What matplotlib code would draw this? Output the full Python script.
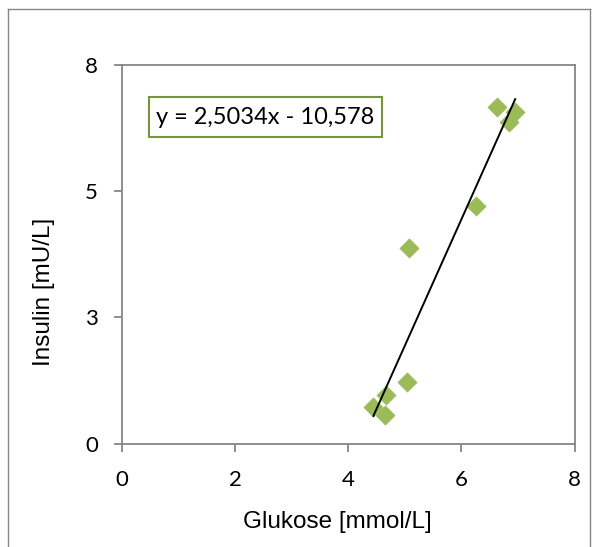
import matplotlib
matplotlib.use("Agg")
import matplotlib.pyplot as plt
import numpy as np
from matplotlib.lines import Line2D
from matplotlib.patches import Rectangle

# Data
glukose = [4.445, 4.652, 4.664, 5.035, 5.081, 6.26, 6.625, 6.843, 6.949]
insulin = [0.732, 0.568, 0.964, 1.227, 3.867, 4.704, 6.669, 6.372, 6.564]
slope = 2.5034
intercept = -10.578
equation = "y = 2,5034x - 10,578"
x_ticks = [0, 2, 4, 6, 8]
x_ticklabels = ["0", "2", "4", "6", "8"]
y_ticks = [0, 2.5, 5, 7.5]
y_ticklabels = ["0", "3", "5", "8"]
x_label = "Glukose [mmol/L]"
y_label = "Insulin [mU/L]"

W, H = 592, 547
fig = plt.figure(figsize=(W / 100, H / 100), dpi=100)

def fx(px):
    return px / W

def fy(py):
    return 1 - py / H

# outer chart-area border
gray = "#868686"
fig.add_artist(Line2D([fx(7.5), fx(7.5)], [fy(9), 0], color=gray, lw=1.0))
fig.add_artist(Line2D([fx(7.5), fx(590)], [fy(9), fy(9)], color=gray, lw=1.0))
fig.add_artist(Line2D([fx(590), fx(590)], [fy(9), 0], color=gray, lw=1.0))

left, right, top, bottom = 121.7, 574.7, 64.7, 443.7
ax = fig.add_axes([fx(left), fy(bottom), fx(right - left), (bottom - top) / H])

ax.scatter(glukose, insulin, marker="D", s=95, color="#9BBB59", edgecolors="#9BBB59",
           linewidths=0.5, zorder=3)
xs = np.array([min(glukose), max(glukose)])
ax.plot(xs, slope * xs + intercept, color="black", lw=1.4, zorder=4)

ax.set_xlim(0, 8)
ax.set_ylim(0, 7.5)
ax.set_xticks(x_ticks)
ax.set_xticklabels(x_ticklabels)
ax.set_yticks(y_ticks)
ax.set_yticklabels(y_ticklabels)
for s in ax.spines.values():
    s.set_color(gray)
    s.set_linewidth(1.3)
ax.tick_params(direction="out", length=6, width=1.3, color=gray, labelsize=16,
               labelcolor="black")
ax.tick_params(axis="x", pad=13)
ax.tick_params(axis="y", pad=11)
for lab in ax.get_xticklabels() + ax.get_yticklabels():
    lab.set_fontfamily("Lato")

fig.text(fx(337), fy(522), x_label, ha="center", va="center", fontsize=17.5,
         family="Liberation Sans")
fig.text(fx(44), fy(292), y_label, ha="center", va="center", fontsize=17.5,
         rotation=90, family="Liberation Sans")

# equation box
fig.add_artist(Rectangle((fx(149), fy(137)), fx(382 - 149), (137 - 97.5) / H,
                         fill=True, facecolor="white", edgecolor="#77933C", lw=1.5))
fig.text(fx(265.5), fy(118), equation, ha="center", va="center", fontsize=17,
         family="Lato")

fig.savefig("out.png", dpi=100)
